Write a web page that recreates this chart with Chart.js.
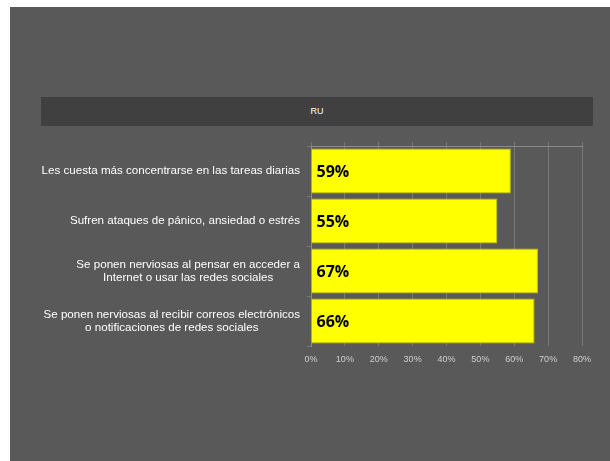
<!DOCTYPE html>
<html>
<head>
<meta charset="utf-8">
<script src="https://cdn.jsdelivr.net/npm/chart.js@4"></script>
<style>
    html, body { margin: 0; padding: 0; background: #ffffff; }
    #wrap { position: relative; width: 610px; height: 461px; }
    #panel { position: absolute; left: 10px; top: 7px; width: 600px; height: 454px; background: #595959; }
    #title-bar {
        position: absolute; left: 41px; top: 97px; width: 552px; height: 29px;
        background: #404040; color: #ffffff; font: 9px "Liberation Sans", sans-serif;
        line-height: 29px; text-align: center;
    }
    #chart-box { position: absolute; left: 0; top: 0; width: 610px; height: 461px; }
</style>
</head>
<body>
<div id="wrap">
    <div id="panel"></div>
    <div id="title-bar">RU</div>
    <div id="chart-box"><canvas id="bars"></canvas></div>
</div>
<script>
// --- Data ---
const categories = [
    ['Les cuesta más concentrarse en las tareas diarias'],
    ['Sufren ataques de pánico, ansiedad o estrés'],
    ['Se ponen nerviosas al pensar en acceder a', 'Internet o usar las redes sociales'],
    ['Se ponen nerviosas al recibir correos electrónicos', 'o notificaciones de redes sociales']
];
const values = [59, 55, 67, 66];
const xTicks = [0, 10, 20, 30, 40, 50, 60, 70, 80];

const GRID = '#797979';
const AXIS = '#8a8a8a';

// category labels: right-aligned block, centered lines
const categoryLabels = {
    id: 'categoryLabels',
    afterDraw(chart) {
        const ctx = chart.ctx;
        const y = chart.scales.y;
        const right = chart.chartArea.left - 11;
        ctx.save();
        ctx.font = '11.6px "Liberation Sans", sans-serif';
        ctx.fillStyle = '#ffffff';
        ctx.textAlign = 'center';
        ctx.textBaseline = 'middle';
        categories.forEach((lines, i) => {
            const cy = y.getPixelForValue(i);
            const widest = Math.max(...lines.map(l => ctx.measureText(l).width));
            const cx = right - widest / 2;
            const lh = 13;
            lines.forEach((l, j) => {
                ctx.fillText(l, cx, cy + (j - (lines.length - 1) / 2) * lh);
            });
        });
        ctx.restore();
    }
};

// value labels inside the bars
const valueLabels = {
    id: 'valueLabels',
    afterDatasetsDraw(chart) {
        const ctx = chart.ctx;
        const meta = chart.getDatasetMeta(0);
        ctx.save();
        ctx.font = 'bold 16px "Open Sans", sans-serif';
        ctx.fillStyle = '#000000';
        ctx.textAlign = 'left';
        ctx.textBaseline = 'middle';
        meta.data.forEach((bar, i) => {
            ctx.fillText(values[i] + '%', bar.base + 5, bar.y + 1);
        });
        ctx.restore();
    }
};

const ctx = document.getElementById('bars').getContext('2d');
new Chart(ctx, {
    type: 'bar',
    data: {
        labels: categories.map(c => c.join(' ')),
        datasets: [{
            data: values,
            backgroundColor: '#ffff00',
            borderColor: '#c9c900',
            borderWidth: 1,
            categoryPercentage: 0.9,
            barPercentage: 1.0,
        }]
    },
    options: {
        indexAxis: 'y',
        responsive: true,
        maintainAspectRatio: false,
        animation: false,
        layout: { padding: { left: 0, right: 28, top: 142, bottom: 95 } },
        scales: {
            x: {
                min: 0, max: 80,
                afterBuildTicks: (s) => { s.ticks = xTicks.map(v => ({ value: v })); },
                afterFit: (s) => { s.height = 20; },
                grid: { color: GRID, lineWidth: 1, drawTicks: false },
                border: { display: false },
                ticks: {
                    padding: 8,
                    color: '#cfcfcf',
                    font: { family: 'Liberation Sans', size: 9 },
                    callback: (v) => v + '%'
                }
            },
            x2: {
                type: 'linear',
                position: 'top',
                min: 0, max: 80,
                afterBuildTicks: (s) => { s.ticks = xTicks.map(v => ({ value: v })); },
                afterFit: (s) => { s.height = 4; },
                grid: { color: GRID, drawOnChartArea: false, tickLength: 4 },
                border: { display: true, color: AXIS },
                ticks: { display: false }
            },
            y: {
                afterFit: (s) => { s.width = 311; },
                grid: { color: GRID, drawOnChartArea: false, tickLength: 4, offset: true },
                border: { display: true, color: AXIS },
                ticks: { display: false }
            }
        },
        plugins: {
            legend: { display: false },
            tooltip: { enabled: false }
        }
    },
    plugins: [categoryLabels, valueLabels]
});
</script>
</body>
</html>
